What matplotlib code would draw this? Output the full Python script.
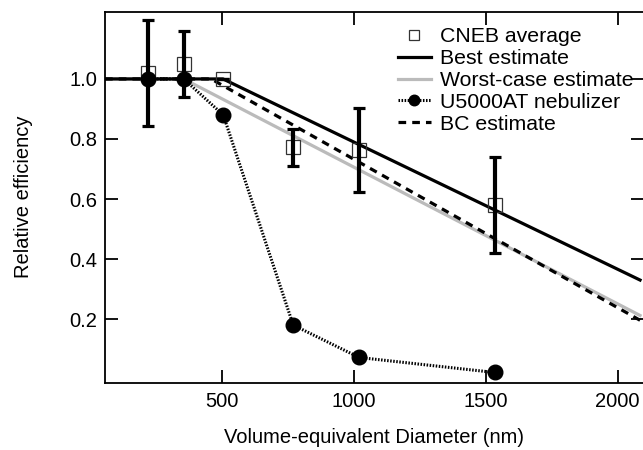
import matplotlib.pyplot as plt
import numpy as np

plt.rcParams['font.family'] = ['Liberation Sans', 'DejaVu Sans']

# CNEB average with error bars
cneb_d = [220, 356, 505, 771, 1021, 1535]
cneb_eff = [1.02, 1.05, 1.0, 0.772, 0.762, 0.58]
cneb_err = [0.177, 0.11, 0.0, 0.061, 0.14, 0.16]

# U5000AT nebulizer
neb_d = [220, 356, 506, 771, 1021, 1535]
neb_eff = [1.0, 1.0, 0.88, 0.18, 0.072, 0.022]

# model estimates (piecewise)
best_d = [58, 505, 2085]
best_eff = [1.0, 1.0, 0.33]
worst_d = [58, 356, 2085]
worst_eff = [1.0, 1.0, 0.212]
bc_d = [58, 460, 2085]
bc_eff = [1.0, 1.0, 0.196]

yticks = [0.2, 0.4, 0.6, 0.8, 1.0]

fig = plt.figure(figsize=(6.43, 4.5), dpi=100)
ax = fig.add_axes([105/643, 1-382.7/450, (644-105)/643, (382.7-11.7)/450])

ax.plot(worst_d, worst_eff, color='#bbbbbb', lw=2.3, label='Worst-case estimate', zorder=2)
ax.plot(bc_d, bc_eff, color='black', lw=2.3, ls=(0, (2.4, 1.9)), label='BC estimate', zorder=3)
ax.plot(best_d, best_eff, color='black', lw=2.3, label='Best estimate', zorder=3)

ax.plot(cneb_d, cneb_eff, ls='none', marker='s', ms=10, mfc='none', mec='#333333', mew=0.9,
        label='CNEB average', zorder=4)
ax.errorbar(cneb_d, cneb_eff, yerr=cneb_err, fmt='none', ecolor='black', elinewidth=3,
            capsize=4.3, capthick=2.3, zorder=5)
ax.plot(neb_d, neb_eff, color='black', lw=2.2, ls=(0, (0.5, 0.5)), marker='o', ms=10.5,
        label='U5000AT nebulizer', zorder=6)

ax.set_xlim(58, 2100)
ax.set_ylim(-0.012, 1.224)
ax.set_xticks([500, 1000, 1500, 2000])
ax.set_yticks(yticks)
ax.set_yticklabels(['%.1f' % v for v in yticks])
ax.tick_params(direction='in', length=9.5, width=1.3, labelsize=14.5, top=True, right=True)
ax.tick_params(axis='y', pad=5.5)
ax.tick_params(axis='x', pad=7)
# small outward stubs of the y ticks
ax.set_yticks(yticks, minor=True)
ax.tick_params(axis='y', which='minor', direction='out', length=4.5, width=1.3,
               left=True, right=False, labelleft=False)
for s in ax.spines.values():
    s.set_linewidth(1.3)

ax.set_xlabel('Volume-equivalent Diameter (nm)', fontsize=14.5, labelpad=12)
ax.set_ylabel('Relative efficiency', fontsize=14.5, labelpad=26)

h, l = ax.get_legend_handles_labels()
order = ['CNEB average', 'Best estimate', 'Worst-case estimate', 'U5000AT nebulizer', 'BC estimate']
hd = dict(zip(l, h))
ax.legend([hd[k] for k in order], order, loc='upper left', bbox_to_anchor=(398/643, 1-27/450),
          bbox_transform=fig.transFigure, frameon=False, fontsize=15.3, handlelength=1.55,
          handletextpad=0.45, labelspacing=0.14, borderpad=0, borderaxespad=0, markerscale=0.72)

fig.savefig('out.png', dpi=100)
